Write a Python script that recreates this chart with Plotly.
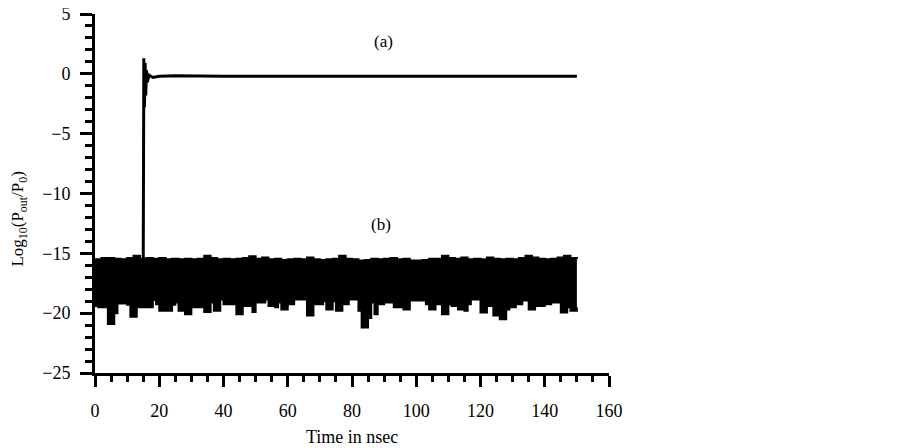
import plotly.graph_objects as go

# noise floor, curve (b): lower / upper envelope of the band
t_low = list(range(0, 151))
b_low = [
    -19.4, -19.5, -19.5, -19.5, -20.9, -20.9, -20.0, -19.2, -19.2, -19.2,
    -19.3, -20.3, -20.3, -19.5, -19.5, -19.5, -19.5, -19.5, -18.9, -19.25,
    -19.8, -19.8, -19.8, -19.8, -19.3, -19.1, -19.8, -19.8, -20.1, -20.1,
    -19.5, -19.5, -19.5, -19.5, -19.9, -19.9, -19.1, -19.8, -19.8, -18.85,
    -19.25, -19.25, -19.25, -19.25, -20.1, -20.1, -19.4, -19.4, -19.4, -19.9,
    -19.1, -19.1, -19.1, -18.85, -19.4, -19.4, -19.5, -19.1, -19.7, -19.7,
    -19.25, -19.25, -18.85, -18.85, -18.85, -18.85, -20.2, -20.2, -19.25, -19.25,
    -19.25, -19.0, -19.7, -19.7, -19.0, -19.8, -19.8, -19.25, -19.25, -18.85,
    -18.85, -18.85, -19.8, -21.2, -21.2, -20.4, -19.1, -20.1, -19.25, -19.25,
    -19.1, -19.1, -19.1, -19.5, -19.5, -19.5, -19.7, -19.7, -18.95, -18.95,
    -18.95, -18.95, -18.95, -19.25, -19.7, -19.7, -19.25, -19.25, -20.1, -20.1,
    -19.25, -19.4, -19.4, -19.7, -19.7, -19.8, -19.25, -18.85, -18.85, -18.85,
    -19.95, -19.95, -19.4, -19.4, -20.2, -20.2, -20.5, -20.5, -19.7, -19.5,
    -19.5, -19.25, -19.25, -18.95, -18.95, -19.7, -19.7, -19.4, -19.4, -19.4,
    -19.25, -19.25, -19.1, -19.1, -19.1, -19.95, -19.95, -19.5, -19.8, -19.8,
    -19.5,
]
t_up = list(range(0, 151, 2))
b_up = [
    -15.5, -15.4, -15.4, -15.45, -15.5, -15.4, -15.2, -15.45, -15.4, -15.45,
    -15.4, -15.5, -15.45, -15.5, -15.45, -15.5, -15.45, -15.2, -15.4, -15.5,
    -15.45, -15.5, -15.45, -15.4, -15.25, -15.45, -15.35, -15.5, -15.45, -15.55,
    -15.5, -15.45, -15.5, -15.35, -15.5, -15.55, -15.5, -15.45, -15.2, -15.45,
    -15.5, -15.6, -15.55, -15.45, -15.5, -15.45, -15.4, -15.5, -15.45, -15.6,
    -15.6, -15.55, -15.45, -15.45, -15.2, -15.4, -15.45, -15.35, -15.5, -15.45,
    -15.5, -15.35, -15.45, -15.5, -15.45, -15.5, -15.4, -15.2, -15.35, -15.45,
    -15.5, -15.45, -15.35, -15.2, -15.4, -15.5,
]

# output signal, curve (a)
t_a = [0, 15.0, 15.2, 15.4, 15.6, 15.8, 16.0, 16.3, 16.8, 18, 20, 25, 40, 80, 120, 150]
a_val = [-17.0, -17.0, 1.3, -2.8, 0.9, -1.8, 0.3, -0.7, -0.1, -0.3, -0.2, -0.15, -0.2, -0.2, -0.2, -0.2]

FONT = "Liberation Serif"

fig = go.Figure()

fig.add_trace(
    go.Scatter(
        x=t_low, y=b_low, mode="lines", line=dict(color="black", width=2, shape="hv"),
        showlegend=False, hoverinfo="skip",
    )
)
fig.add_trace(
    go.Scatter(
        x=t_up, y=b_up, mode="lines", line=dict(color="black", width=2, shape="hv"),
        fill="tonexty", fillcolor="black", showlegend=False, hoverinfo="skip",
    )
)
fig.add_trace(
    go.Scatter(
        x=t_a, y=a_val, mode="lines", line=dict(color="black", width=3),
        showlegend=False,
    )
)

fig.add_annotation(x=89.7, y=2.7, text="(a)", showarrow=False, font=dict(size=17))
fig.add_annotation(x=89, y=-12.6, text="(b)", showarrow=False, font=dict(size=17))

# axis titles as annotations so they sit where the original has them
fig.add_annotation(
    xref="paper", yref="paper", x=0.5, y=-0.178, text="Time in nsec",
    showarrow=False, font=dict(size=18), yanchor="middle",
)
fig.add_annotation(
    xref="paper", yref="paper", x=-0.148, y=0.43,
    text="Log<sub>10</sub>(P<sub>out</sub>/P<sub>0</sub>)",
    showarrow=False, textangle=-90, font=dict(size=17),
    xanchor="center", yanchor="middle",
)

axis_common = dict(
    showline=True, linecolor="black", linewidth=3, showgrid=False, zeroline=False,
    ticks="outside", tickcolor="black", tickwidth=3, mirror=False, automargin=False,
    ticklabeloverflow="allow", tickfont=dict(size=18, color="black"),
)

fig.update_xaxes(
    range=[0, 160], tick0=0, dtick=20, ticklen=11, ticklabelstandoff=8,
    minor=dict(dtick=5, ticks="outside", ticklen=6, tickwidth=3, tickcolor="black"),
    **axis_common,
)
fig.update_yaxes(
    range=[-25, 5], tick0=0, dtick=5, ticklen=12, ticklabelstandoff=6,
    minor=dict(dtick=1, ticks="outside", ticklen=7, tickwidth=3, tickcolor="black"),
    **axis_common,
)

# the page body adds an 8px offset, so the margins are shifted by that
fig.update_layout(
    width=903, height=448,
    margin=dict(l=87, r=302, t=6, b=83),
    plot_bgcolor="white", paper_bgcolor="white",
    font=dict(family=FONT, color="black"),
)

fig.write_html("out.html")
